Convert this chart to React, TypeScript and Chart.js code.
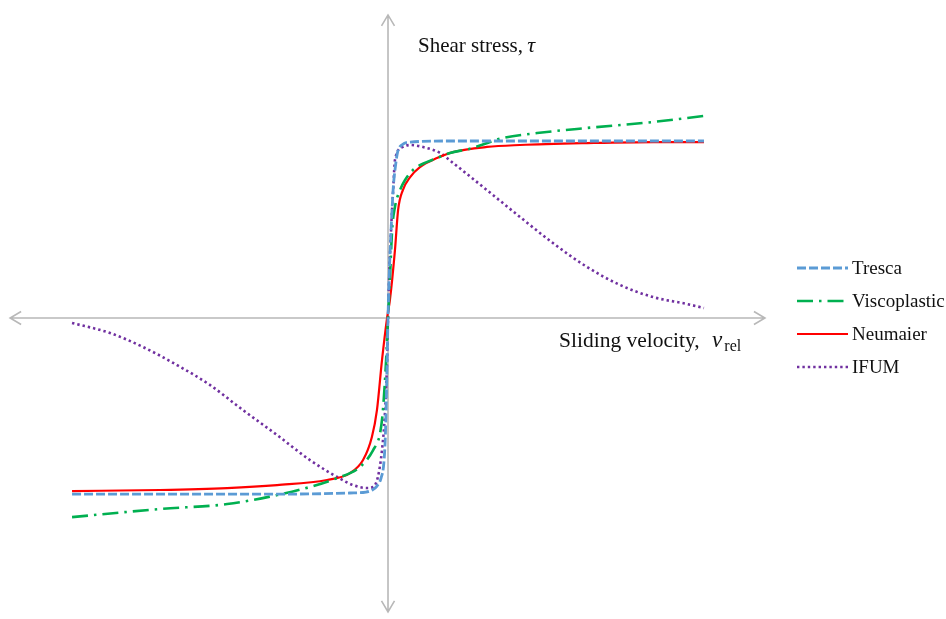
import React, { useEffect, useRef } from "react";
import { Chart, registerables } from "chart.js";

Chart.register(...registerables);

// ---- data (velocity normalised to ±1, stress normalised to Tresca plateau) ----
const trescaX = [-1, -0.6, -0.3, -0.12, -0.07, -0.05, -0.035, -0.022, -0.013, -0.008, -0.004, 0, 0.005, 0.011, 0.017, 0.022, 0.03, 0.045, 0.07, 0.2, 0.5, 1];
const trescaY = [-1.0, -1.0, -1.0, -0.994, -0.989, -0.977, -0.955, -0.909, -0.82, -0.65, -0.35, 0, 0.3, 0.55, 0.75, 0.84, 0.94, 0.985, 1.0, 1.006, 1.006, 1.006];

const viscoX = [-1, -0.722, -0.509, -0.351, -0.247, -0.161, -0.089, -0.047, -0.025, -0.016, -0.006, 0, 0.006, 0.013, 0.022, 0.038, 0.054, 0.079, 0.155, 0.196, 0.259, 0.364, 0.472, 0.63, 0.839, 1];
const viscoY = [-1.131, -1.085, -1.057, -1.006, -0.96, -0.909, -0.847, -0.75, -0.653, -0.523, -0.239, 0, 0.216, 0.5, 0.631, 0.727, 0.784, 0.841, 0.909, 0.938, 0.962, 1.023, 1.051, 1.08, 1.114, 1.148];

const neumX = [-1, -0.722, -0.509, -0.351, -0.193, -0.12, -0.079, -0.051, -0.035, -0.019, -0.003, 0.006, 0.022, 0.032, 0.047, 0.07, 0.101, 0.155, 0.206, 0.313, 0.418, 0.63, 0.839, 1];
const neumY = [-0.983, -0.977, -0.966, -0.949, -0.92, -0.881, -0.807, -0.676, -0.523, -0.239, 0, 0.102, 0.386, 0.614, 0.727, 0.801, 0.858, 0.909, 0.943, 0.972, 0.983, 0.994, 1.0, 1.0];

const ifumX = [-1, -0.88, -0.775, -0.668, -0.563, -0.459, -0.351, -0.247, -0.161, -0.111, -0.066, -0.047, -0.032, -0.019, -0.01, -0.004, 0, 0.005, 0.011, 0.017, 0.022, 0.047, 0.07, 0.123, 0.165, 0.206, 0.313, 0.418, 0.522, 0.63, 0.734, 0.839, 0.946, 1];
const ifumY = [-0.028, -0.085, -0.165, -0.267, -0.381, -0.523, -0.665, -0.807, -0.903, -0.949, -0.966, -0.96, -0.903, -0.75, -0.55, -0.3, 0, 0.3, 0.55, 0.75, 0.898, 0.972, 0.983, 0.966, 0.938, 0.881, 0.727, 0.574, 0.426, 0.29, 0.188, 0.119, 0.08, 0.057];

const seriesNames = ["Tresca", "Viscoplastic", "Neumaier", "IFUM"];
const seriesColors = ["#5B9BD5", "#00B050", "#FF0000", "#7030A0"];
const seriesDashes: number[][] = [[9, 3], [16, 6, 2.5, 6], [], [2.4, 3]];
const seriesWidths = [2.8, 2.6, 2.2, 2.6];

// axis extents (data units)
const axisX = [-1.196, 1.193];
const axisY = [-1.67, 1.722];
// view range (data units)
const viewX = [-1.228, 1.766];
const viewY = [-1.71, 1.807];

const FONT = '"Liberation Serif", "Times New Roman", serif';

const pts = (xs: number[], ys: number[]) => xs.map((x, i) => ({ x, y: ys[i] }));

const decorPlugin = {
  id: "decor",
  beforeDatasetsDraw(chart: any) {
    const { ctx, scales } = chart;
    const sx = scales.x, sy = scales.y;
    const x0 = sx.getPixelForValue(0);
    const y0 = sy.getPixelForValue(0);
    const xl = sx.getPixelForValue(axisX[0]);
    const xr = sx.getPixelForValue(axisX[1]);
    const yt = sy.getPixelForValue(axisY[1]);
    const yb = sy.getPixelForValue(axisY[0]);
    ctx.save();
    ctx.strokeStyle = "#B8B8B8";
    ctx.lineWidth = 1.6;
    ctx.setLineDash([]);
    ctx.beginPath();
    ctx.moveTo(xl, y0); ctx.lineTo(xr, y0);
    ctx.moveTo(x0, yt); ctx.lineTo(x0, yb);
    const L = 11, W = 6.5;
    ctx.moveTo(xl + L, y0 - W); ctx.lineTo(xl, y0); ctx.lineTo(xl + L, y0 + W);
    ctx.moveTo(xr - L, y0 - W); ctx.lineTo(xr, y0); ctx.lineTo(xr - L, y0 + W);
    ctx.moveTo(x0 - W, yt + L); ctx.lineTo(x0, yt); ctx.lineTo(x0 + W, yt + L);
    ctx.moveTo(x0 - W, yb - L); ctx.lineTo(x0, yb); ctx.lineTo(x0 + W, yb - L);
    ctx.stroke();
    ctx.restore();
  },
  afterDraw(chart: any) {
    const { ctx, scales } = chart;
    const x0 = scales.x.getPixelForValue(0);
    const y0 = scales.y.getPixelForValue(0);
    ctx.save();
    ctx.fillStyle = "#111";
    ctx.textBaseline = "alphabetic";
    ctx.textAlign = "left";
    // y-axis title
    let tx = x0 + 30, ty = 52;
    ctx.font = `21px ${FONT}`;
    const s1 = "Shear stress, ";
    ctx.fillText(s1, tx, ty);
    tx += ctx.measureText(s1).width - 1;
    ctx.font = `italic 22px ${FONT}`;
    ctx.fillText("τ", tx, ty);
    // x-axis title
    tx = 559; ty = y0 + 29;
    ctx.font = `21.5px ${FONT}`;
    const s2 = "Sliding velocity, ";
    ctx.fillText(s2, tx, ty);
    tx += ctx.measureText(s2).width + 7;
    ctx.font = `italic 23px ${FONT}`;
    ctx.fillText("v", tx, ty);
    tx += ctx.measureText("v").width + 2;
    ctx.font = `16px ${FONT}`;
    ctx.fillText("rel", tx, ty + 4);

    // legend
    const lx = 797, lw = 51, rowY = [268, 301, 334, 367];
    chart.data.datasets.forEach((ds: any, i: number) => {
      ctx.save();
      ctx.strokeStyle = ds.borderColor;
      ctx.lineWidth = ds.borderWidth;
      ctx.setLineDash(ds.borderDash || []);
      ctx.beginPath();
      ctx.moveTo(lx, rowY[i]);
      ctx.lineTo(lx + lw, rowY[i]);
      ctx.stroke();
      ctx.restore();
      ctx.font = `19px ${FONT}`;
      ctx.fillStyle = "#111";
      ctx.textBaseline = "middle";
      ctx.fillText(ds.label, lx + lw + 4, rowY[i] + 1);
    });
    ctx.restore();
  },
};

export default function App() {
  const ref = useRef<HTMLCanvasElement | null>(null);
  useEffect(() => {
    if (!ref.current) return;
    const data = [pts(trescaX, trescaY), pts(viscoX, viscoY), pts(neumX, neumY), pts(ifumX, ifumY)];
    const chart = new Chart(ref.current, {
      type: "line",
      data: {
        datasets: seriesNames.map((name, i) => ({
          label: name,
          data: data[i],
          borderColor: seriesColors[i],
          backgroundColor: seriesColors[i],
          borderWidth: seriesWidths[i],
          borderDash: seriesDashes[i],
          pointRadius: 0,
          cubicInterpolationMode: "monotone" as const,
          fill: false,
        })),
      },
      options: {
        animation: false,
        responsive: false,
        layout: { padding: 0 },
        plugins: { legend: { display: false }, tooltip: { enabled: false } },
        scales: {
          x: { type: "linear", min: viewX[0], max: viewX[1], display: false },
          y: { type: "linear", min: viewY[0], max: viewY[1], display: false },
        },
      },
      plugins: [decorPlugin],
    });
    return () => chart.destroy();
  }, []);
  return (
    <div style={{ position: "fixed", left: 0, top: 0, width: 946, height: 619, background: "#fff" }}>
      <canvas ref={ref} width={946} height={619} />
    </div>
  );
}
